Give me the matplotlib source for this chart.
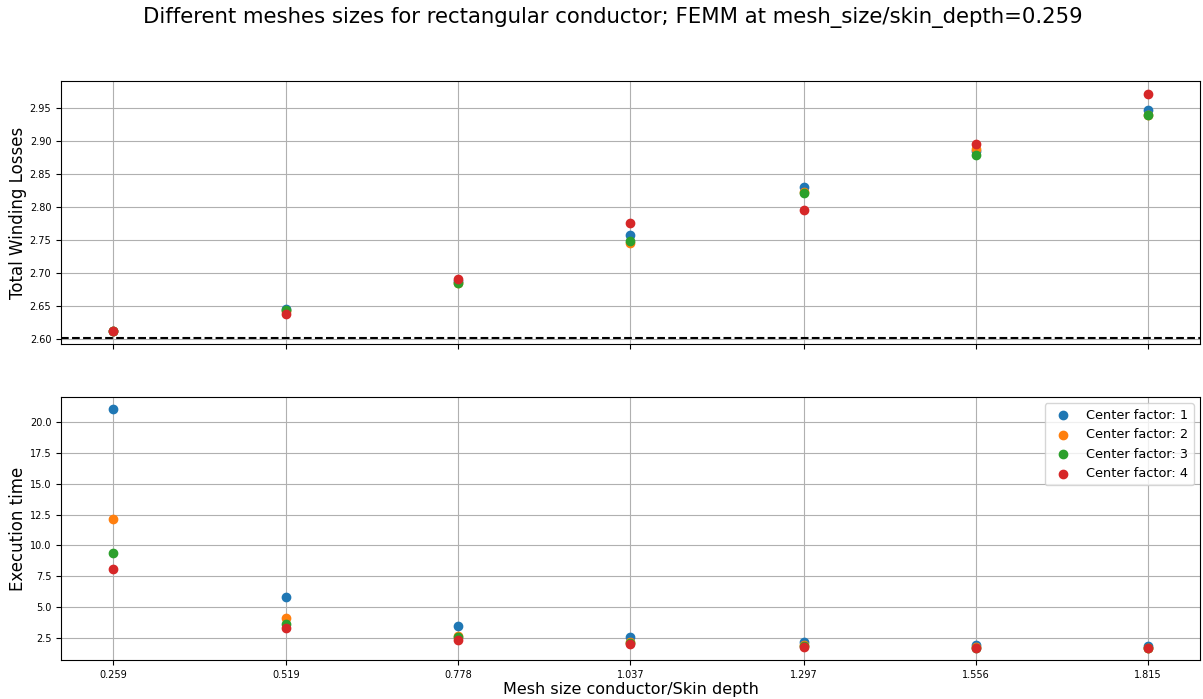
import matplotlib
matplotlib.use("Agg")
import matplotlib.pyplot as plt

mesh_ratio = [0.259, 0.519, 0.778, 1.037, 1.297, 1.556, 1.815]
tick_labels = ["0.259", "0.519", "0.778", "1.037", "1.297", "1.556", "1.815"]
center_factors = [1, 2, 3, 4]

losses_cf1 = [2.612, 2.645, 2.688, 2.757, 2.830, 2.885, 2.9465]
losses_cf2 = [2.612, 2.642, 2.684, 2.746, 2.822, 2.888, 2.940]
losses_cf3 = [2.612, 2.643, 2.685, 2.748, 2.821, 2.879, 2.939]
losses_cf4 = [2.612, 2.637, 2.691, 2.775, 2.796, 2.896, 2.972]

time_cf1 = [21.05, 5.86, 3.44, 2.58, 2.18, 1.90, 1.87]
time_cf2 = [12.12, 4.12, 2.69, 2.20, 1.95, 1.75, 1.72]
time_cf3 = [9.38, 3.63, 2.55, 2.10, 1.85, 1.72, 1.70]
time_cf4 = [8.07, 3.31, 2.36, 2.04, 1.77, 1.69, 1.69]

femm_reference = 2.6015

losses = [losses_cf1, losses_cf2, losses_cf3, losses_cf4]
times = [time_cf1, time_cf2, time_cf3, time_cf4]

fig, (ax1, ax2) = plt.subplots(2, 1, sharex=True, figsize=(12.03, 6.99), dpi=100)
fig.subplots_adjust(left=0.0507, right=0.9975, top=0.8841, bottom=0.0558, hspace=0.2015)

for cf, l, t in zip(center_factors, losses, times):
    ax1.scatter(mesh_ratio, l, label=f"Center factor: {cf}", zorder=3)
    ax2.scatter(mesh_ratio, t, label=f"Center factor: {cf}", zorder=3)

ax1.axhline(femm_reference, color="black", linestyle="--", linewidth=1.5)
ax1.set_ylim(2.592, 2.991)

for ax in (ax1, ax2):
    ax.grid(True)
    ax.tick_params(labelsize=7)
ax2.set_xticks(mesh_ratio)
ax2.set_xticklabels(tick_labels)

ax1.set_ylabel("Total Winding Losses", fontsize=12, labelpad=2)
ax2.set_ylabel("Execution time", fontsize=12, labelpad=2)
ax2.set_xlabel("Mesh size conductor/Skin depth", fontsize=11.5, labelpad=2)
ax2.legend(loc="upper right", fontsize=9.3)

fig.suptitle("Different meshes sizes for rectangular conductor; FEMM at mesh_size/skin_depth=0.259",
             fontsize=15.3, y=0.99, x=0.509)

fig.savefig("out.png", dpi=100)
